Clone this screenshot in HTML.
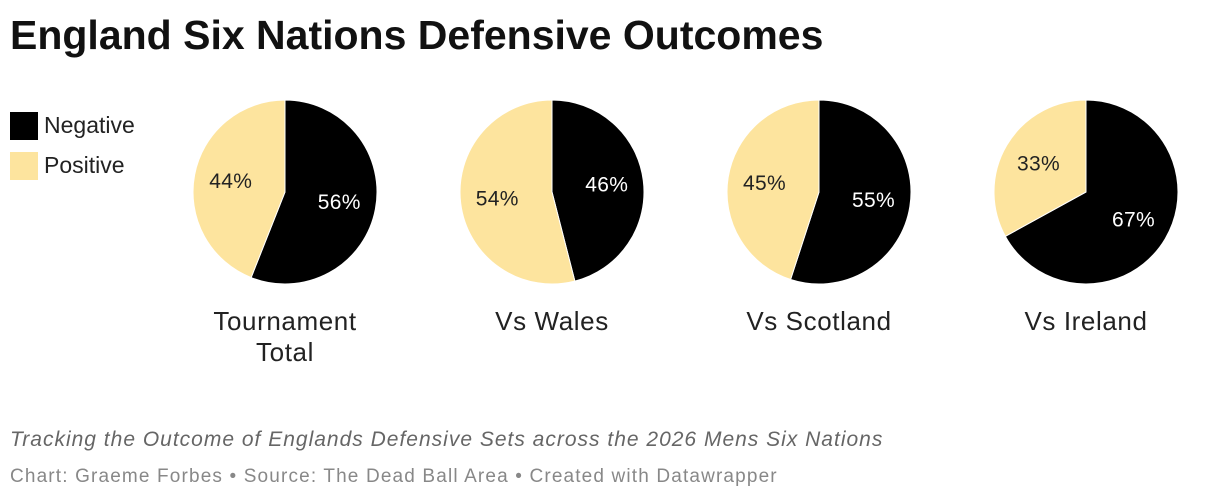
<!DOCTYPE html>
<html><head><meta charset="utf-8"><style>
body{margin:0;width:1220px;height:502px;background:#fff;font-family:"Liberation Sans",sans-serif;overflow:hidden;position:relative}
.t{position:absolute;white-space:nowrap}
</style></head><body>
<div class="t" style="left:10px;top:12px;font-size:41px;font-weight:bold;color:#111">England Six Nations Defensive Outcomes</div>
<div>
<div style="position:absolute;left:10px;top:112px;width:28px;height:28px;background:#000"></div>
<div class="t" style="left:44px;top:112px;font-size:23px;color:#222">Negative</div>
<div style="position:absolute;left:10px;top:152px;width:28px;height:28px;background:#fde49e"></div>
<div class="t" style="left:44px;top:152px;font-size:23px;color:#222">Positive</div>
</div>
<svg id="c" width="1220" height="400" style="position:absolute;left:0;top:0"></svg>
<div class="t" style="left:10px;top:428px;font-size:21px;letter-spacing:1px;font-style:italic;color:#666">Tracking the Outcome of Englands Defensive Sets across the 2026 Mens Six Nations</div>
<div class="t" style="left:10px;top:466px;font-size:19px;letter-spacing:1.15px;color:#888">Chart: Graeme Forbes • Source: The Dead Ball Area • Created with Datawrapper</div>
<script>
const categories=["Tournament|Total","Vs Wales","Vs Scotland","Vs Ireland"];
const negative=[56,46,55,67];
const positive=[44,54,45,33];
const svg=document.getElementById('c');const NS="http://www.w3.org/2000/svg";
const cx0=285,dx=267,cy=192,r=92;
function pt(f,rr,cx){const a=f*2*Math.PI;return [cx+rr*Math.sin(a),cy-rr*Math.cos(a)];}
function slice(cx,f0,f1,fill,name){const p0=pt(f0,r,cx),p1=pt(f1,r,cx);const large=(f1-f0)>0.5?1:0;
const el=document.createElementNS(NS,'path');
el.setAttribute('d',`M${cx},${cy}L${p0[0]},${p0[1]}A${r},${r} 0 ${large} 1 ${p1[0]},${p1[1]}Z`);
el.setAttribute('fill',fill);el.setAttribute('stroke','#fff');el.setAttribute('stroke-width','1');


svg.appendChild(el);}
function label(x,y,txt,col,size,ls,name){const el=document.createElementNS(NS,'text');
el.setAttribute('x',x);el.setAttribute('y',y);el.setAttribute('text-anchor','middle');el.setAttribute('dominant-baseline','central');
el.setAttribute('font-size',size);el.setAttribute('letter-spacing',ls);el.setAttribute('fill',col);el.setAttribute('font-family','Liberation Sans, sans-serif');el.textContent=txt;


svg.appendChild(el);return el;}
categories.forEach((c,i)=>{const cx=cx0+i*dx;const tot=negative[i]+positive[i];const fn=negative[i]/tot;
slice(cx,0,fn,'#000','slice-negative');slice(cx,fn,1,'#fde49e','slice-positive');
let p=pt(fn/2,0.6*r,cx);label(p[0],p[1],negative[i]+'%','#fff',21,0.3,'value-negative');
p=pt((fn+1)/2,0.6*r,cx);label(p[0],p[1],positive[i]+'%','#222',21,0.3,'value-positive');
c.split('|').forEach((ln,j)=>label(cx,321+j*31,ln,'#222',26,0.6,'pie-label'));});
</script>
</body></html>
